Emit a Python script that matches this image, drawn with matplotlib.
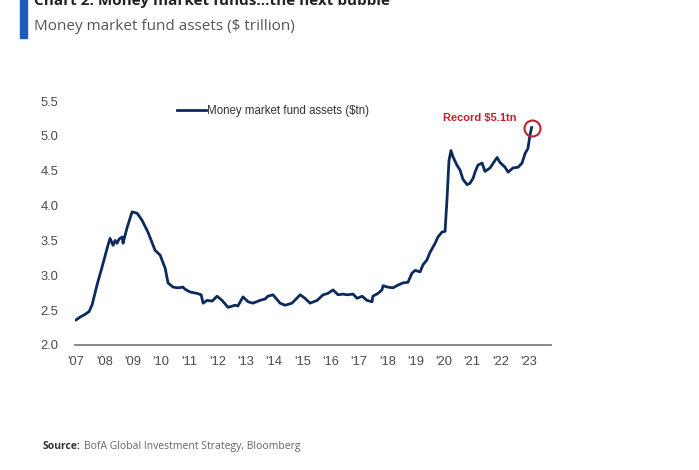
import matplotlib
matplotlib.use("Agg")
import matplotlib.pyplot as plt
from matplotlib.patches import Rectangle

# ---- data ----
years = [2007.00, 2007.14, 2007.32, 2007.46, 2007.57, 2007.74, 2007.92, 2008.10, 2008.20, 2008.31,
         2008.38, 2008.45, 2008.52, 2008.63, 2008.66, 2008.80, 2008.98, 2009.16, 2009.33, 2009.54,
         2009.79, 2009.97, 2010.15, 2010.25, 2010.43, 2010.60, 2010.78, 2010.85, 2011.03, 2011.28,
         2011.42, 2011.49, 2011.63, 2011.81, 2011.98, 2012.16, 2012.37, 2012.62, 2012.72, 2012.90,
         2013.08, 2013.25, 2013.50, 2013.68, 2013.78, 2013.96, 2014.21, 2014.39, 2014.63, 2014.92,
         2015.09, 2015.27, 2015.52, 2015.73, 2015.90, 2016.08, 2016.26, 2016.43, 2016.58, 2016.79,
         2016.93, 2017.11, 2017.28, 2017.46, 2017.49, 2017.67, 2017.81, 2017.85, 2018.02, 2018.20,
         2018.38, 2018.55, 2018.73, 2018.87, 2018.98, 2019.16, 2019.26, 2019.40, 2019.51, 2019.69,
         2019.79, 2019.93, 2020.04, 2020.11, 2020.18, 2020.25, 2020.32, 2020.46, 2020.57, 2020.67,
         2020.82, 2020.92, 2021.03, 2021.10, 2021.20, 2021.35, 2021.45, 2021.63, 2021.81, 2021.88,
         2021.98, 2022.16, 2022.27, 2022.44, 2022.62, 2022.76, 2022.87, 2022.97, 2023.04, 2023.10]
assets = [2.36, 2.40, 2.44, 2.48, 2.58, 2.86, 3.12, 3.39, 3.53, 3.43,
          3.50, 3.46, 3.52, 3.55, 3.46, 3.68, 3.91, 3.89, 3.79, 3.62,
          3.36, 3.29, 3.10, 2.89, 2.83, 2.82, 2.83, 2.80, 2.76, 2.74,
          2.72, 2.60, 2.64, 2.63, 2.70, 2.64, 2.54, 2.57, 2.56, 2.69,
          2.62, 2.60, 2.64, 2.66, 2.70, 2.72, 2.60, 2.57, 2.60, 2.72,
          2.67, 2.60, 2.64, 2.72, 2.74, 2.79, 2.72, 2.73, 2.72, 2.73,
          2.67, 2.70, 2.64, 2.62, 2.70, 2.74, 2.79, 2.85, 2.83, 2.82,
          2.86, 2.89, 2.90, 3.03, 3.07, 3.05, 3.15, 3.22, 3.33, 3.46,
          3.55, 3.62, 3.63, 4.10, 4.65, 4.79, 4.70, 4.58, 4.51, 4.38,
          4.30, 4.32, 4.39, 4.48, 4.58, 4.61, 4.49, 4.54, 4.65, 4.69,
          4.62, 4.55, 4.48, 4.54, 4.55, 4.61, 4.75, 4.82, 5.01, 5.12]
xtick_years = list(range(2007, 2024))
xtick_labels = ["'%02d" % (y % 100) for y in xtick_years]
yticks = [2.0, 2.5, 3.0, 3.5, 4.0, 4.5, 5.0, 5.5]
record_year, record_value = 2023.12, 5.11
series_name = "Money market fund assets ($tn)"

NAVY = "#0d2a5e"
RED = "#c3202e"
TICK = "#4a4a4a"

fig = plt.figure(figsize=(6.99, 4.70), dpi=100)
fig.patch.set_facecolor("white")
ax = fig.add_axes([0.1072, 0.266, 0.6817, 0.519])

ax.plot(years, assets, color=NAVY, lw=2.0, label=series_name, solid_joinstyle="round")
ax.plot([record_year], [record_value], marker="o", ms=11.5, mfc="none", mec=RED, mew=1.5, ls="none")
ax.text(2022.58, 5.25, "Record $5.1tn", color=RED, fontsize=8, fontweight="bold",
        family="Liberation Sans", ha="right", va="center")

ax.set_xlim(2006.96, 2023.8)
ax.set_ylim(2.0, 5.5)
ax.set_xticks(xtick_years)
ax.set_xticklabels(xtick_labels)
ax.set_yticks(yticks)
ax.set_yticklabels(["%.1f" % v for v in yticks])
for s in ["top", "right", "left"]:
    ax.spines[s].set_visible(False)
ax.spines["bottom"].set_color("#7f7f7f")
ax.spines["bottom"].set_linewidth(1.3)
ax.tick_params(axis="both", length=0, labelsize=9.3, labelcolor=TICK)
ax.tick_params(axis="y", pad=12)
ax.tick_params(axis="x", pad=8)
for lab in ax.get_xticklabels() + ax.get_yticklabels():
    lab.set_family("Liberation Sans")

leg = ax.legend(loc="center left", bbox_to_anchor=(0.214, 0.959), frameon=False,
                handlelength=2.5, handletextpad=0.1, borderpad=0, borderaxespad=0,
                prop={"family": "Liberation Sans", "size": 8.3})
for t in leg.get_texts():
    t.set_color("#333333")

# header
fig.patches.append(Rectangle((20 / 699, 1 - 38 / 470), 7 / 699, 38 / 470,
                             transform=fig.transFigure, color="#1d5cb8", zorder=5))
fig.text(34 / 699, 1 - 5 / 470, "Chart 2: Money market funds...the next bubble", fontsize=11,
         fontweight="bold", family="Open Sans", color="#222222", va="baseline", ha="left")
fig.text(34 / 699, 1 - 30 / 470, "Money market fund assets ($ trillion)", fontsize=11,
         family="Open Sans", color="#555555", va="baseline", ha="left")

# source
t1 = fig.text(43 / 699, 1 - 449 / 470, "Source:", fontsize=7.5, fontweight="bold",
              family="Open Sans", color="#333333", va="baseline", ha="left")
fig.canvas.draw()
bb = t1.get_window_extent()
fig.text((bb.x1 + 3) / 699, 1 - 449 / 470, "BofA Global Investment Strategy, Bloomberg",
         fontsize=7.5, family="Open Sans", color="#666666", va="baseline", ha="left")

fig.savefig("out.png", dpi=100, facecolor="white")
